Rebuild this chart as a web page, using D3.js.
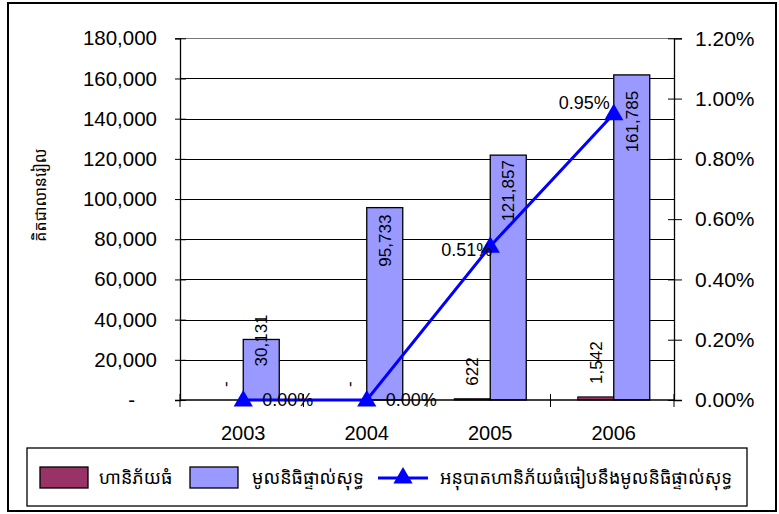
<!DOCTYPE html>
<html><head><meta charset="utf-8">
<script src="https://cdn.jsdelivr.net/npm/d3@7/dist/d3.min.js"></script>
<style>
body{margin:0;background:#fff;}
text{font-family:"Liberation Sans",Arial,sans-serif;fill:#000;}
.kh{font-family:"Khmer OS","Noto Sans Khmer","Noto Sans","DejaVu Sans",sans-serif;}
</style></head>
<body>
<svg id="chart" width="779" height="514"></svg>
<script>
// ---- data ----
const years = ["2003","2004","2005","2006"];
const largeRisk = [0, 0, 622, 1542];              // ហានិភ័យធំ
const netOwnFund = [30131, 95733, 121857, 161785]; // មូលនិធិផ្ទាល់សុទ្ធ
const ratio = [0, 0, 0.0051, 0.0095];              // អនុបាត
const leftTicks = [0,20000,40000,60000,80000,100000,120000,140000,160000,180000];
const rightTicks = [0,0.002,0.004,0.006,0.008,0.010,0.012];
const seriesNames = ["ហានិភ័យធំ","មូលនិធិផ្ទាល់សុទ្ធ","អនុបាតហានិភ័យធំធៀបនឹងមូលនិធិផ្ទាល់សុទ្ធ"];
const yTitle = "គិតជាលានរៀល";

// ---- layout ----
const svg = d3.select("#chart");
const plot = {left:180, right:674, top:38.3, bottom:400};
const colors = {risk:"#993366", fund:"#9999FF", line:"#0000FF"};
const barW = 36;
// label nudges (px) for value labels of fund bars and ratio labels
const fundLabelShift = [-28, 4, 2, 13];
const pctLabelOffset = [[19,0,"start"],[19,0,"start"],[2,3,"end"],[-4,-11,"end"]];

const x = d3.scaleBand().domain(years).range([plot.left+1.5, plot.right+1.5]);
const yL = d3.scaleLinear().domain([0,180000]).range([plot.bottom, plot.top]);
const yR = d3.scaleLinear().domain([0,0.012]).range([plot.bottom, plot.top]);
const cx = d => x(d) + x.bandwidth()/2;

// outer border
svg.append("rect").attr("x",8).attr("y",3).attr("width",768).attr("height",508)
  .attr("fill","#fff").attr("stroke","#000").attr("stroke-width",2);

// gridlines
svg.append("g").selectAll("line").data(leftTicks.filter(v=>v>0)).join("line")
  .attr("x1",plot.left).attr("x2",plot.right)
  .attr("y1",d=>Math.round(yL(d))+0.5).attr("y2",d=>Math.round(yL(d))+0.5)
  .attr("stroke",d=>d===180000?"#777":"#000").attr("stroke-width",1);

// bars
const gb = svg.append("g");
gb.selectAll(".risk").data(years).join("rect").attr("class","risk")
  .attr("x",(d,i)=>cx(d)-barW).attr("width",barW)
  .attr("y",(d,i)=>yL(largeRisk[i])).attr("height",(d,i)=>plot.bottom-yL(largeRisk[i]))
  .attr("fill",colors.risk).attr("stroke","#000").attr("stroke-width",1)
  .style("display",(d,i)=>largeRisk[i]===0?"none":null);
gb.selectAll(".fund").data(years).join("rect").attr("class","fund")
  .attr("x",d=>cx(d)).attr("width",barW)
  .attr("y",(d,i)=>yL(netOwnFund[i])).attr("height",(d,i)=>plot.bottom-yL(netOwnFund[i]))
  .attr("fill",colors.fund).attr("stroke","#000").attr("stroke-width",1.3);

// left axis
const axL = svg.append("g").attr("transform",`translate(${plot.left},0)`)
  .call(d3.axisLeft(yL).tickValues(leftTicks)
    .tickFormat(v=>v===0?"-":d3.format(",")(v)).tickSize(5).tickPadding(18));
axL.select(".domain").attr("stroke","#000").attr("stroke-width",1.3);
axL.selectAll(".tick line").attr("x1",-5).attr("x2",6).attr("stroke","#000");
axL.selectAll(".tick text").style("font-size","20.5px").style("font-family","Liberation Sans, Arial, sans-serif");
axL.selectAll("text").filter(function(){return this.textContent==="-";}).attr("dx",-22);

// right axis
const axR = svg.append("g").attr("transform",`translate(${plot.right},0)`)
  .call(d3.axisRight(yR).tickValues(rightTicks).tickFormat(d3.format(".2%")).tickSize(8).tickPadding(13));
axR.select(".domain").attr("stroke","#000").attr("stroke-width",1.3);
axR.selectAll(".tick line").attr("x1",-6).attr("x2",8).attr("stroke","#000");
axR.selectAll(".tick text").style("font-size","21px").style("font-family","Liberation Sans, Arial, sans-serif");

// bottom axis
svg.append("line").attr("x1",plot.left).attr("x2",plot.right).attr("y1",plot.bottom).attr("y2",plot.bottom)
  .attr("stroke","#000").attr("stroke-width",1.5);
const bounds = years.map(d=>x(d)).concat([x(years[years.length-1])+x.bandwidth()]);
svg.append("g").selectAll("line").data(bounds).join("line")
  .attr("x1",d=>d-1.5).attr("x2",d=>d-1.5).attr("y1",plot.bottom-6).attr("y2",plot.bottom+7)
  .attr("stroke","#000");
svg.append("g").selectAll("text").data(years).join("text")
  .attr("x",d=>cx(d)).attr("y",440).attr("text-anchor","middle")
  .style("font-size","20px").text(d=>d);

// value labels - risk
svg.append("g").selectAll("text").data(years).join("text")
  .attr("transform",(d,i)=>`translate(${cx(d)-barW/2},${yL(largeRisk[i])-13}) rotate(-90)`)
  .attr("dy","0.35em").attr("text-anchor","start").style("font-size","17px")
  .text((d,i)=>largeRisk[i]===0?"-":d3.format(",")(largeRisk[i]));

// value labels - fund
svg.append("g").selectAll("text").data(years).join("text")
  .attr("transform",(d,i)=>`translate(${cx(d)+barW/2},${yL(netOwnFund[i])+3+fundLabelShift[i]}) rotate(-90)`)
  .attr("dy","0.35em").attr("text-anchor","end").style("font-size","17px")
  .text((d,i)=>d3.format(",")(netOwnFund[i]));

// ratio line
const pts = years.map((d,i)=>[cx(d), yR(ratio[i])]);
svg.append("path").attr("d",d3.line()(pts)).attr("fill","none")
  .attr("stroke",colors.line).attr("stroke-width",3);
const tri = d3.symbol().type(d3.symbolTriangle).size(160);
svg.append("g").selectAll("path").data(pts).join("path")
  .attr("transform",p=>`translate(${p[0]},${p[1]+1})`).attr("d",tri).attr("fill",colors.line);

// ratio labels
svg.append("g").selectAll("text").data(pts).join("text")
  .attr("x",(p,i)=>p[0]+pctLabelOffset[i][0]).attr("y",(p,i)=>p[1]+pctLabelOffset[i][1])
  .attr("dy","0.35em").attr("text-anchor",(p,i)=>pctLabelOffset[i][2])
  .style("font-size","18px").text((p,i)=>d3.format(".2%")(ratio[i]));

// y title
svg.append("text").attr("class","kh").attr("transform","translate(40,195) rotate(-90)")
  .attr("text-anchor","middle").attr("dy","0.35em").style("font-size","16px").text(yTitle);

// legend
const lg = svg.append("g");
lg.append("rect").attr("x",27).attr("y",448).attr("width",720).attr("height",58)
  .attr("fill","#fff").attr("stroke","#000").attr("stroke-width",1.3);
lg.append("rect").attr("x",40).attr("y",467).attr("width",48).attr("height",21)
  .attr("fill",colors.risk).attr("stroke","#000").attr("stroke-width",1.3);
lg.append("text").attr("class","kh").attr("x",99).attr("y",478).attr("dy","0.35em").style("font-size","18px").text(seriesNames[0]);
lg.append("rect").attr("x",190).attr("y",467).attr("width",48).attr("height",21)
  .attr("fill",colors.fund).attr("stroke","#000").attr("stroke-width",1.3);
lg.append("text").attr("class","kh").attr("x",252).attr("y",478).attr("dy","0.35em").style("font-size","18px").text(seriesNames[1]);
lg.append("line").attr("x1",378).attr("x2",428).attr("y1",478).attr("y2",478).attr("stroke",colors.line).attr("stroke-width",3);
lg.append("path").attr("transform","translate(403,478)").attr("d",tri).attr("fill",colors.line);
lg.append("text").attr("class","kh").attr("x",440).attr("y",478).attr("dy","0.35em").style("font-size","18px").text(seriesNames[2]);
</script>
</body></html>
